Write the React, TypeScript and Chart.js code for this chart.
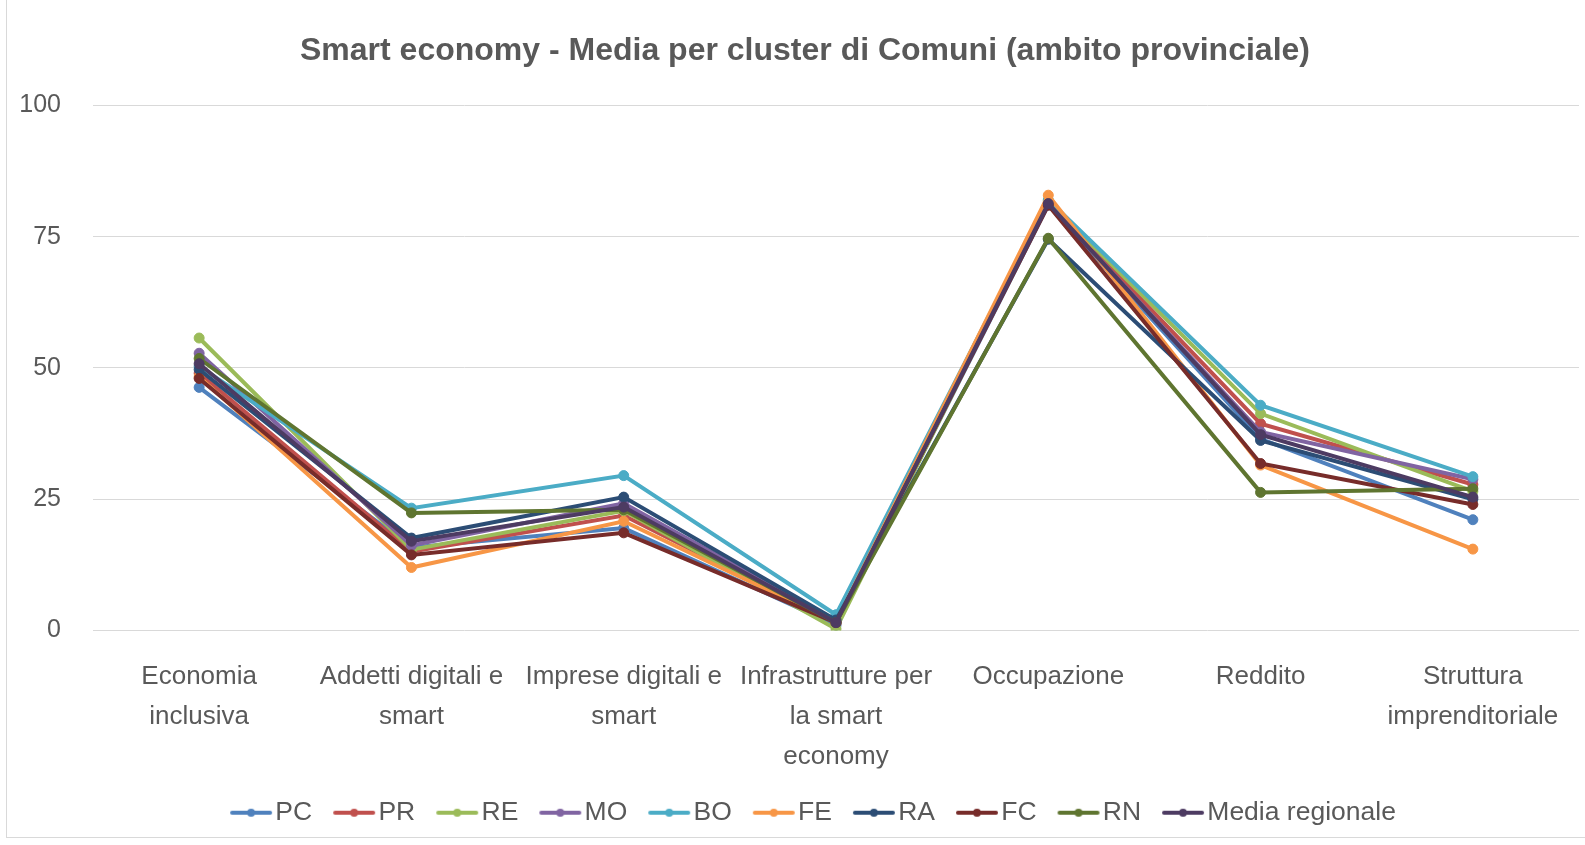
import React, { useEffect, useRef } from "react";
import { Chart, registerables } from "chart.js";

Chart.register(...registerables);

const categories: string[][] = [
  ["Economia", "inclusiva"],
  ["Addetti digitali e", "smart"],
  ["Imprese digitali e", "smart"],
  ["Infrastrutture per", "la smart", "economy"],
  ["Occupazione"],
  ["Reddito"],
  ["Struttura", "imprenditoriale"],
];

const seriesNames = ["PC", "PR", "RE", "MO", "BO", "FE", "RA", "FC", "RN", "Media regionale"];

const PC = [46.3, 15.8, 19.5, 1.0, 81.0, 36.5, 21.1];
const PR = [49.0, 15.0, 21.9, 1.5, 81.5, 39.4, 27.8];
const RE = [55.7, 15.4, 22.8, 0.3, 81.8, 41.3, 26.5];
const MO = [52.8, 16.2, 24.2, 1.8, 81.2, 37.8, 28.8];
const BO = [50.3, 23.3, 29.5, 3.0, 82.0, 42.9, 29.3];
const FE = [48.3, 12.0, 20.8, 1.5, 82.9, 31.5, 15.5];
const RA = [49.7, 17.6, 25.4, 2.0, 74.5, 36.2, 25.0];
const FC = [48.0, 14.4, 18.6, 1.5, 81.0, 31.8, 24.0];
const RN = [51.8, 22.4, 23.0, 1.5, 74.7, 26.3, 27.0];
const MEDIA = [50.8, 17.0, 23.5, 1.5, 81.3, 37.3, 25.4];

const seriesValues = [PC, PR, RE, MO, BO, FE, RA, FC, RN, MEDIA];

const seriesColors = [
  "#4F81BD",
  "#C0504D",
  "#9BBB59",
  "#8064A2",
  "#4BACC6",
  "#F79646",
  "#2C4D75",
  "#772C2A",
  "#5F7530",
  "#4D3B62",
];

const yTicks = [0, 25, 50, 75, 100];

const TEXT = "#595959";
const FONT = "'Liberation Sans', Arial, sans-serif";

function makeLegendMarker(color: string): HTMLCanvasElement {
  const c = document.createElement("canvas");
  c.width = 44;
  c.height = 12;
  const ctx = c.getContext("2d")!;
  ctx.strokeStyle = color;
  ctx.lineWidth = 4;
  ctx.lineCap = "round";
  ctx.beginPath();
  ctx.moveTo(3, 6);
  ctx.lineTo(41, 6);
  ctx.stroke();
  ctx.fillStyle = color;
  ctx.beginPath();
  ctx.arc(22, 6, 4, 0, Math.PI * 2);
  ctx.fill();
  return c;
}

const shiftBoxes = {
  id: "shiftBoxes",
  afterLayout(chart: any) {
    const lg = chart.legend;
    if (lg) {
      lg.left += 28;
      lg.right += 28;
    }
    const tt = chart.titleBlock;
    if (tt) {
      tt.left += 15;
      tt.right += 15;
    }
  },
};

export default function App() {
  const ref = useRef<HTMLCanvasElement | null>(null);

  useEffect(() => {
    document.body.style.margin = "0";
    const canvas = ref.current!;
    const markers = seriesColors.map(makeLegendMarker);
    const n = seriesNames.length;
    const chart = new Chart(canvas, {
      type: "line",
      data: {
        labels: categories,
        datasets: seriesNames.map((name, i) => ({
          label: name,
          data: seriesValues[i],
          borderColor: seriesColors[i],
          backgroundColor: seriesColors[i],
          pointBackgroundColor: seriesColors[i],
          pointBorderColor: seriesColors[i],
          borderWidth: 4,
          pointRadius: 5,
          pointBorderWidth: 1,
          fill: false,
          tension: 0,
          order: n - 1 - i,
        })),
      },
      plugins: [shiftBoxes],
      options: {
        responsive: false,
        animation: false,
        layout: { padding: { left: 0, right: 5, top: 0, bottom: 9 } },
        plugins: {
          title: {
            display: true,
            text: "Smart economy - Media per cluster di Comuni (ambito provinciale)",
            color: TEXT,
            font: { family: FONT, size: 32, weight: "bold" },
            padding: { top: 32, bottom: 35 },
          },
          legend: {
            display: true,
            position: "bottom",
            labels: {
              color: TEXT,
              font: { family: FONT, size: 26.5 },
              usePointStyle: true,
              pointStyleWidth: 22,
              padding: 31,
              generateLabels: (ch: any) =>
                ch.data.datasets.map((ds: any, i: number) => ({
                  text: ds.label,
                  fillStyle: ds.borderColor,
                  strokeStyle: ds.borderColor,
                  lineWidth: 0,
                  pointStyle: markers[i],
                  hidden: false,
                  datasetIndex: i,
                  fontColor: TEXT,
                })),
            },
          },
          tooltip: { enabled: false },
        },
        scales: {
          x: {
            offset: true,
            grid: { display: false, drawTicks: false },
            border: { display: false },
            ticks: {
              color: TEXT,
              font: { family: FONT, size: 26, lineHeight: 1.54 },
              padding: 26,
              maxRotation: 0,
              autoSkip: false,
            },
            afterFit: (scale: any) => {
              scale.height = 138;
            },
          },
          y: {
            min: 0,
            max: 100,
            afterBuildTicks: (scale: any) => {
              scale.ticks = yTicks.map((v) => ({ value: v }));
            },
            grid: { color: "#D9D9D9", lineWidth: 1, drawTicks: false },
            border: { display: false },
            ticks: {
              color: TEXT,
              font: { family: FONT, size: 25 },
              padding: 32,
            },
            afterFit: (scale: any) => {
              scale.width = 93;
            },
          },
        },
      },
    });
    return () => chart.destroy();
  }, []);

  return (
    <div style={{ position: "relative", width: 1585, height: 845, overflow: "hidden", background: "#fff" }}>
      <div
        style={{
          position: "absolute",
          left: 6,
          top: -2,
          width: 1585,
          height: 840,
          border: "1px solid #D9D9D9",
          boxSizing: "border-box",
        }}
      />
      <canvas ref={ref} width={1585} height={845} style={{ position: "absolute", left: 0, top: 0 }} />
    </div>
  );
}
